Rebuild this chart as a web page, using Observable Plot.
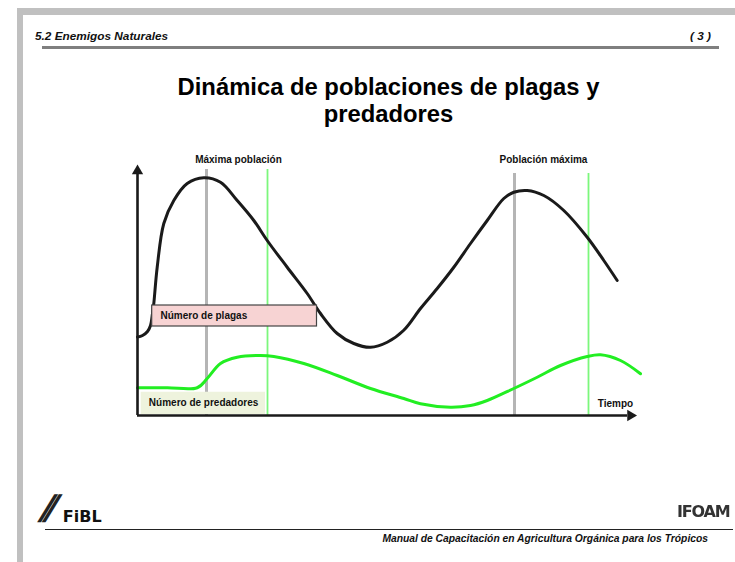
<!DOCTYPE html>
<html>
<head>
<meta charset="utf-8">
<script src="https://cdn.jsdelivr.net/npm/d3@7"></script>
<script src="https://cdn.jsdelivr.net/npm/@observablehq/plot@0.6"></script>
<style>
  html, body { margin: 0; padding: 0; background: #fff; }
  #page { position: relative; width: 735px; height: 562px; overflow: hidden; background: #fff; font-family: "Liberation Sans", Arial, sans-serif; }
  .abs { position: absolute; white-space: nowrap; }
  #chart { position: absolute; left: 0; top: 140px; }
</style>
</head>
<body>
<div id="page">
  <div class="abs" style="left:17px;top:8px;width:718px;height:7px;background:#c0c0c0"></div>
  <div class="abs" style="left:17px;top:8px;width:6px;height:554px;background:#c0c0c0"></div>
  <div class="abs" id="hdrL" style="left:35px;top:30.7px;font:italic bold 11.8px/11.8px 'Liberation Sans';color:#111"></div>
  <div class="abs" id="hdrR" style="right:24px;top:30.7px;font:italic bold 11.8px/11.8px 'Liberation Sans';color:#111"></div>
  <div class="abs" style="left:42px;top:46px;width:677px;height:2.5px;background:#7f7f7f"></div>
  <div class="abs" id="title" style="left:168px;top:72.8px;width:441px;text-align:center;white-space:normal;font:bold 23.8px/27.5px 'Liberation Sans';color:#000"></div>
  <div id="chart"></div>
  <div class="abs" style="left:42px;top:488px;height:38px;">
    <span style="display:inline-block;font:italic 900 34px/38px 'DejaVu Sans';letter-spacing:-8px;color:#222;transform:skewX(-6deg)">//</span><span style="font:bold 16px/38px 'DejaVu Sans';color:#111;margin-left:12px;position:relative;top:3px" id="fibl"></span>
  </div>
  <div class="abs" id="ifoam" style="left:677px;top:502px;font:900 16px/20px 'DejaVu Sans';letter-spacing:-1.2px;color:#333;filter:blur(0.4px)"></div>
  <div class="abs" style="left:45px;top:528.5px;width:688px;height:1.3px;background:#222"></div>
  <div class="abs" id="footer" style="right:27px;top:534.3px;font:italic bold 10.3px/10.3px 'Liberation Sans';color:#111"></div>
</div>
<script>
// ---- texts ----
const headerLeft = "5.2 Enemigos Naturales";
const headerRight = "( 3 )";
const titleText = "Dinámica de poblaciones de plagas y predadores";
const footerText = "Manual de Capacitación en Agricultura Orgánica para los Trópicos";
const logoLeft = "FiBL";
const logoRight = "IFOAM";

// ---- pest population curve (time, population) ----
const pestTime = [0, 1, 2, 2.6, 3, 3.26, 3.94, 5.26, 7.26, 9.94, 13.26, 16.6, 19.94, 23.26, 25.94, 29.94, 33.94, 36.6, 39.94, 43.26, 46.6, 49.94, 53.2, 56.6, 59.94, 63.26, 66.6, 69.94, 73.26, 75.26, 77.94, 81.26, 85.26, 89.94, 93.26, 95.94];
const pestPop  = [31.4, 32, 33.6, 36, 40.8, 44.8, 59.3, 76.8, 86, 92.8, 95.1, 93.3, 86, 78, 70, 59.3, 48.8, 40.8, 32.8, 28.8, 27.3, 29.3, 34, 42.8, 50.8, 59.3, 68.8, 78, 86.8, 89.3, 90, 88, 82, 71.3, 62, 54];

// ---- predator population curve ----
const predTime = [0, 6, 11.94, 13.94, 16.6, 19.94, 24.6, 27.26, 33.26, 39.94, 46.6, 53.26, 56.6, 62.6, 66.6, 69.94, 75.26, 79.94, 84.6, 89.94, 92.6, 96.6, 100.6];
const predPop  = [11.1, 11.1, 11.1, 14.8, 20.8, 23.3, 24, 23.6, 20.8, 16, 10.8, 6.8, 4.7, 3.3, 4, 6, 10.8, 15.3, 20, 23.6, 24.3, 22, 16.7];

// ---- reference lines: pest peaks (grey) and predator peaks (green) ----
const pestPeakTimes = [13.8, 75.4];
const predPeakTimes = [26, 90.2];
const peakLineTops = [98.4, 96.8];
const peakLabels = ["Máxima población", "Población máxima"];
const peakLabelTimes = [20.2, 81.2];
const peakLabelPop = 102.4;

// ---- legend boxes ----
const pestLegend = {label: "Número de plagas", t1: 2.94, t2: 35.9, p1: 35.6, p2: 44, tx: 4.6, py: 39.7};
const predLegend = {label: "Número de predadores", t1: 0.74, t2: 25.6, p1: 0.4, p2: 9.3, tx: 2.27, py: 4.9};
const axisLabel = {label: "Tiempo", t: 95.6, p: 4.8};

document.getElementById("hdrL").textContent = headerLeft;
document.getElementById("hdrR").textContent = headerRight;
document.getElementById("title").textContent = titleText;
document.getElementById("footer").textContent = footerText;
document.getElementById("fibl").textContent = logoLeft;
document.getElementById("ifoam").textContent = logoRight;

const pest = pestTime.map((t, i) => ({t, p: pestPop[i]}));
const pred = predTime.map((t, i) => ({t, p: predPop[i]}));
const greyRules = pestPeakTimes.map((t, i) => ({t, top: peakLineTops[i]}));
const greenRules = predPeakTimes.map((t, i) => ({t, top: peakLineTops[i]}));
const peakText = peakLabels.map((label, i) => ({label, t: peakLabelTimes[i], p: peakLabelPop}));

const font = "Liberation Sans";

const chart = Plot.plot({
  width: 735,
  height: 290,
  marginLeft: 137,
  marginRight: 98,
  marginTop: 25,
  marginBottom: 15,
  x: {domain: [0, 100], axis: null},
  y: {domain: [0, 100], axis: null},
  style: {background: "transparent", overflow: "visible", fontFamily: font},
  marks: [
    Plot.ruleX(greyRules, {x: "t", y1: 0, y2: "top", stroke: "#b5b5b5", strokeWidth: 3}),
    Plot.ruleX(greenRules, {x: "t", y1: 0, y2: "top", stroke: "#7cf77c", strokeWidth: 1.8}),
    Plot.line(pred, {x: "t", y: "p", curve: "catmull-rom", stroke: "#22ee22", strokeWidth: 3}),
    Plot.line(pest, {x: "t", y: "p", curve: "catmull-rom", stroke: "#1a1a1a", strokeWidth: 3}),
    Plot.rect([predLegend], {x1: "t1", x2: "t2", y1: "p1", y2: "p2", fill: "#eef3dd"}),
    Plot.rect([pestLegend], {x1: "t1", x2: "t2", y1: "p1", y2: "p2", fill: "#f7d3d3", stroke: "#444", strokeWidth: 1.2}),
    Plot.text([pestLegend, predLegend], {x: "tx", y: "py", text: "label", textAnchor: "start", fontWeight: "bold", fontSize: 10, fill: "#111"}),
    Plot.text(peakText, {x: "t", y: "p", text: "label", fontWeight: "bold", fontSize: 10, fill: "#111"}),
    Plot.text([axisLabel], {x: "t", y: "p", text: "label", fontWeight: "bold", fontSize: 10, fill: "#111"}),
    // axes
    Plot.ruleX([0], {y1: 0, y2: 97, stroke: "#1a1a1a", strokeWidth: 2.6}),
    Plot.ruleY([0], {x1: 0, x2: 98, stroke: "#1a1a1a", strokeWidth: 2.6}),
    Plot.dot([{t: 0, p: 97.8}], {x: "t", y: "p", symbol: "triangle", r: 4.2, fill: "#1a1a1a", stroke: "none"}),
    Plot.dot([{t: 98.6, p: 0}], {x: "t", y: "p", symbol: "triangle", r: 4.2, fill: "#1a1a1a", stroke: "none", rotate: 90})
  ]
});
document.getElementById("chart").appendChild(chart);
</script>
</body>
</html>
